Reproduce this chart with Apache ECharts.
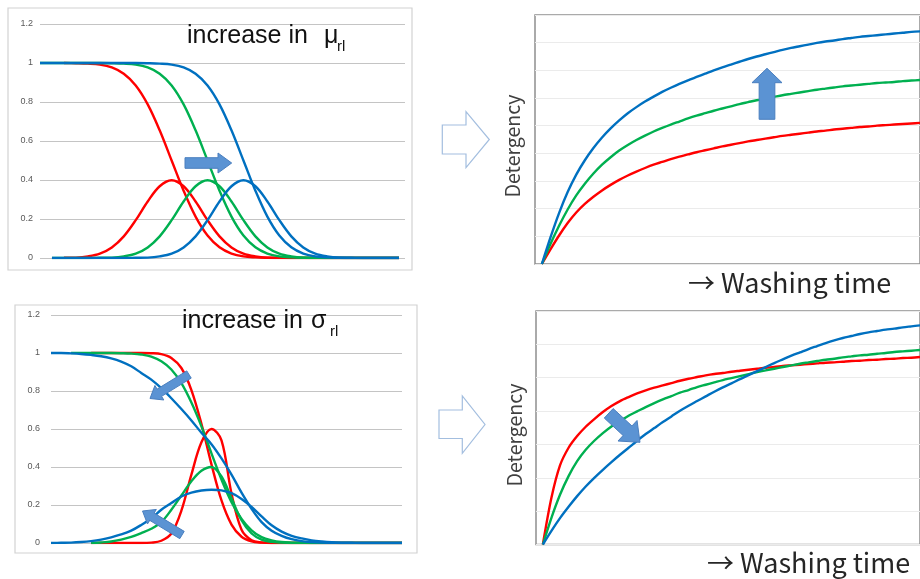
<!DOCTYPE html>
<html>
<head>
<meta charset="utf-8">
<script src="https://cdn.jsdelivr.net/npm/echarts@6/dist/echarts.min.js"></script>
<style>
  html, body { margin: 0; padding: 0; background: #ffffff; }
  #chart { width: 920px; height: 579px; }
</style>
</head>
<body>
<div id="chart"></div>
<script>
// ---------- Shift of the mean (upper-left panel) ----------
const muX = [0,0.4,0.8,1.2,1.6,2,2.4,2.8,3.2,3.6,4,4.4,4.8,5.2,5.6,6,6.4,6.8,7.2,7.6,8,8.4,8.8,9.2,9.6,10,10.4,10.8,11.2,11.6,12];
const muRedRemain   = [null,null,1,0.999,0.997,0.992,0.977,0.945,0.885,0.788,0.655,0.5,0.345,0.212,0.115,0.055,0.023,0.008,0.003,0.001,0,0,0,0,0,0,0,0,0,0,0];
const muRedRate     = [null,null,0.001,0.002,0.008,0.022,0.054,0.111,0.194,0.290,0.368,0.399,0.368,0.290,0.194,0.111,0.054,0.022,0.008,0.002,0.001,0,0,0,0,0,0,0,0,0,0];
const muGreenRemain = [1,1,1,1,1,1,0.999,0.997,0.992,0.977,0.945,0.885,0.788,0.655,0.5,0.345,0.212,0.115,0.055,0.023,0.008,0.003,0.001,0,0,0,0,0,0,0,0];
const muGreenRate   = [null,0,0,0,0,0.001,0.002,0.008,0.022,0.054,0.111,0.194,0.290,0.368,0.399,0.368,0.290,0.194,0.111,0.054,0.022,0.008,0.002,0.001,0,0,0,0,0,0,0];
const muBlueRemain  = [1,1,1,1,1,1,1,1,1,0.999,0.997,0.992,0.977,0.945,0.885,0.788,0.655,0.5,0.345,0.212,0.115,0.055,0.023,0.008,0.003,0.001,0,0,0,0,0];
const muBlueRate    = [null,0,0,0,0,0,0,0,0.001,0.002,0.008,0.022,0.054,0.111,0.194,0.290,0.368,0.399,0.368,0.290,0.194,0.111,0.054,0.022,0.008,0.002,0.001,0,0,0,0];

// ---------- Spread of the distribution (lower-left panel) ----------
const sgX = [0,0.4,0.8,1.2,1.6,2,2.4,2.8,3.2,3.6,4,4.4,4.8,5.2,5.6,6,6.4,6.8,7.2,7.6,8,8.4,8.8,9.2,9.6,10,10.4,10.8,11.2,11.6,12,12.4,12.8,13.2,13.6,14];
const sgRedRemain   = [null,null,null,null,1,1,1,1,1,1,0.999,0.994,0.974,0.921,0.805,0.627,0.414,0.224,0.097,0.033,0.009,0.002,0,0,0,0,0,0,0,0,0,0,0,0,0,0];
const sgRedRate     = [null,null,null,null,0,0,0,0,0,0,0.002,0.012,0.05,0.17,0.36,0.53,0.6,0.54,0.26,0.07,0.015,0.003,0,0,0,0,0,0,0,0,0,0,0,0,0,0];
const sgGreenRemain = [null,null,1,1,1,1,1,0.999,0.997,0.992,0.981,0.956,0.913,0.841,0.739,0.614,0.472,0.334,0.215,0.127,0.067,0.031,0.014,0.005,0.002,0.001,0,0,0,0,0,0,0,0,0,0];
const sgGreenRate   = [null,null,null,null,0,0.003,0.008,0.018,0.032,0.052,0.075,0.11,0.175,0.25,0.325,0.38,0.4,0.35,0.235,0.12,0.05,0.018,0.006,0.002,0,0,0,0,0,0,0,0,0,0,0,0];
const sgBlueRemain  = [1,1,0.998,0.995,0.99,0.983,0.972,0.955,0.93,0.895,0.86,0.815,0.762,0.705,0.645,0.58,0.52,0.445,0.36,0.265,0.18,0.11,0.065,0.038,0.02,0.01,0.005,0.002,0.001,0,0,0,0,0,0,0];
const sgBlueRate    = [0,0.001,0.002,0.005,0.01,0.018,0.03,0.045,0.065,0.095,0.13,0.175,0.21,0.245,0.265,0.276,0.28,0.277,0.262,0.232,0.19,0.14,0.093,0.06,0.038,0.024,0.014,0.008,0.004,0.002,0.001,0,0,0,0,0];

// ---------- Detergency versus washing time ----------
const washTime = [0,0.25,0.5,0.75,1,1.25,1.5,1.75,2,2.25,2.5,2.75,3,3.25,3.5,3.75,4,4.25,4.5,4.75,5,5.25,5.5,5.75,6,6.25,6.5,6.75,7,7.25,7.5,7.75,8,8.25,8.5,8.75,9,9.25,9.5,9.75,10,10.25,10.5,10.75,11];
const detMuRed   = [0,0.53,1.03,1.48,1.86,2.17,2.43,2.66,2.86,3.04,3.2,3.34,3.47,3.59,3.69,3.79,3.88,3.96,4.04,4.11,4.18,4.25,4.31,4.37,4.43,4.48,4.53,4.58,4.63,4.67,4.71,4.75,4.79,4.82,4.86,4.89,4.92,4.95,4.97,5.0,5.02,5.04,5.06,5.08,5.1];
const detMuGreen = [0,0.72,1.38,1.97,2.48,2.9,3.27,3.59,3.86,4.1,4.3,4.48,4.64,4.79,4.92,5.04,5.15,5.26,5.36,5.45,5.54,5.62,5.7,5.78,5.85,5.92,5.98,6.04,6.1,6.15,6.2,6.25,6.3,6.34,6.38,6.42,6.45,6.48,6.51,6.54,6.56,6.58,6.61,6.63,6.65];
const detMuBlue  = [0,0.96,1.84,2.6,3.23,3.75,4.19,4.57,4.9,5.19,5.45,5.67,5.87,6.05,6.22,6.37,6.51,6.64,6.76,6.88,7.0,7.11,7.21,7.31,7.41,7.5,7.58,7.66,7.74,7.81,7.87,7.93,7.99,8.04,8.08,8.13,8.17,8.21,8.24,8.27,8.3,8.33,8.36,8.39,8.41];
const detSgRed   = [0,1.4,2.37,2.9,3.25,3.53,3.76,3.97,4.15,4.3,4.42,4.53,4.62,4.7,4.77,4.84,4.91,4.97,5.02,5.07,5.11,5.14,5.18,5.21,5.24,5.27,5.3,5.32,5.35,5.37,5.39,5.41,5.43,5.45,5.46,5.48,5.5,5.51,5.53,5.54,5.56,5.57,5.59,5.6,5.62];
const detSgGreen = [0,0.8,1.49,2.05,2.5,2.84,3.11,3.34,3.54,3.7,3.86,3.99,4.12,4.24,4.35,4.45,4.55,4.63,4.72,4.79,4.86,4.93,4.99,5.05,5.11,5.17,5.22,5.27,5.32,5.37,5.42,5.46,5.5,5.54,5.57,5.61,5.64,5.67,5.69,5.72,5.74,5.77,5.79,5.81,5.83];
const detSgBlue  = [0,0.41,0.79,1.13,1.45,1.74,2.0,2.24,2.47,2.69,2.9,3.11,3.31,3.49,3.67,3.84,4.01,4.16,4.3,4.44,4.58,4.71,4.83,4.96,5.08,5.2,5.32,5.44,5.55,5.66,5.76,5.86,5.95,6.04,6.12,6.19,6.25,6.31,6.36,6.4,6.44,6.47,6.51,6.54,6.57];

const RED = '#ff0000', GREEN = '#00b050', BLUE = '#0070c0';

function pairs(xs, ys) {
  const out = [];
  xs.forEach((x, i) => { if (ys[i] !== null && ys[i] !== undefined) out.push([x, ys[i]]); });
  return out;
}
function curve(name, xs, ys, color, axis, width, smooth) {
  return {
    name, type: 'line', xAxisIndex: axis, yAxisIndex: axis,
    data: pairs(xs, ys), showSymbol: false, smooth, silent: true,
    lineStyle: { color, width }, itemStyle: { color }
  };
}
// block arrow outline from tail to tip
function blockArrow(x0, y0, x1, y1, bodyW, headW, headL) {
  const dx = x1 - x0, dy = y1 - y0, L = Math.hypot(dx, dy);
  const ux = dx / L, uy = dy / L, nx = -uy, ny = ux;
  const bx = x1 - ux * headL, by = y1 - uy * headL;
  const hb = bodyW / 2, hh = headW / 2;
  return [[x0 + nx * hb, y0 + ny * hb], [bx + nx * hb, by + ny * hb], [bx + nx * hh, by + ny * hh],
          [x1, y1], [bx - nx * hh, by - ny * hh], [bx - nx * hb, by - ny * hb], [x0 - nx * hb, y0 - ny * hb]];
}
function solidArrow(pts) {
  return { type: 'polygon', z: 100, shape: { points: pts },
           style: { fill: '#5b93d3', stroke: '#4a7fbf', lineWidth: 1 } };
}
function hollowArrow(pts) {
  return { type: 'polygon', z: 100, shape: { points: pts },
           style: { fill: '#ffffff', stroke: '#a3bedf', lineWidth: 1.2 } };
}
function label(text, x, y, size) {
  return { type: 'text', z: 100, x, y,
    style: { text, fontSize: size, fontFamily: 'Liberation Sans, Arial, sans-serif', fill: '#111111',
             align: 'left', verticalAlign: 'middle' } };
}

const leftY = (grid, margin) => ({
  type: 'value', gridIndex: grid, min: 0, max: 1.2, interval: 0.2,
  axisLine: { show: false }, axisTick: { show: false },
  axisLabel: { fontSize: 9, color: '#595959', margin, fontFamily: 'Liberation Sans, Arial, sans-serif' },
  splitLine: { lineStyle: { color: '#c4c4c4', width: 1.2 } }
});
const rightY = (grid, max) => ({
  type: 'value', gridIndex: grid, min: 0, max, interval: 1,
  axisLine: { show: false }, axisTick: { show: false }, axisLabel: { show: false },
  splitLine: { lineStyle: { color: '#ebebeb', width: 1.2 } }
});
const hiddenX = (grid, min, max) => ({
  type: 'value', gridIndex: grid, min, max, axisLine: { show: false }, axisTick: { show: false },
  axisLabel: { show: false }, splitLine: { show: false }
});

const LW = 2.4;
const option = {
  animation: false,
  backgroundColor: '#ffffff',
  grid: [
    { left: 40, top: 24, width: 365, height: 234 },
    { left: 51, top: 315, width: 351, height: 228 },
    { left: 535, top: 15, width: 423, height: 249, show: true, borderColor: '#8f8f8f', borderWidth: 1.5 },
    { left: 536, top: 311, width: 422, height: 233.5, show: true, borderColor: '#8f8f8f', borderWidth: 1.5 }
  ],
  xAxis: [hiddenX(0, 0, 12.2), hiddenX(1, 0, 14), hiddenX(2, -0.2, 11), hiddenX(3, -0.2, 11)],
  yAxis: [leftY(0, 7), leftY(1, 11), rightY(2, 9), rightY(3, 7)],
  series: [
    curve('red remaining', muX, muRedRemain, RED, 0, LW, 0.35),
    curve('red rate', muX, muRedRate, RED, 0, LW, 0.35),
    curve('green remaining', muX, muGreenRemain, GREEN, 0, LW, 0.35),
    curve('green rate', muX, muGreenRate, GREEN, 0, LW, 0.35),
    curve('blue remaining', muX, muBlueRemain, BLUE, 0, LW, 0.35),
    curve('blue rate', muX, muBlueRate, BLUE, 0, LW, 0.35),

    curve('red remaining', sgX, sgRedRemain, RED, 1, LW, 0.35),
    curve('red rate', sgX, sgRedRate, RED, 1, LW, 0.35),
    curve('green remaining', sgX, sgGreenRemain, GREEN, 1, LW, 0.35),
    curve('green rate', sgX, sgGreenRate, GREEN, 1, LW, 0.35),
    curve('blue remaining', sgX, sgBlueRemain, BLUE, 1, LW, 0.35),
    curve('blue rate', sgX, sgBlueRate, BLUE, 1, LW, 0.35),

    curve('red', washTime, detMuRed, RED, 2, LW, 0.3),
    curve('green', washTime, detMuGreen, GREEN, 2, LW, 0.3),
    curve('blue', washTime, detMuBlue, BLUE, 2, LW, 0.3),

    curve('red', washTime, detSgRed, RED, 3, LW, 0.3),
    curve('green', washTime, detSgGreen, GREEN, 3, LW, 0.3),
    curve('blue', washTime, detSgBlue, BLUE, 3, LW, 0.3)
  ],
  graphic: [
    // frames round the two distribution plots
    { type: 'rect', z: 1, shape: { x: 8, y: 8, width: 404, height: 262 },
      style: { fill: 'none', stroke: '#d2d2d2', lineWidth: 1.2 } },
    { type: 'rect', z: 1, shape: { x: 15, y: 305, width: 402, height: 248 },
      style: { fill: 'none', stroke: '#d2d2d2', lineWidth: 1.2 } },

    // panel titles
    label('increase in', 187, 36.5, 25),
    label('μ', 324, 36.5, 25),
    label('rl', 337, 47, 15),
    label('increase in', 182, 321.5, 25),
    label('σ', 311, 321.5, 25),
    label('rl', 330, 332, 15),

    // arrows showing the direction of change
    solidArrow(blockArrow(185, 163, 231.7, 163, 10.6, 20, 13.7)),
    solidArrow(blockArrow(189, 374.5, 150, 398.5, 8.5, 17, 11)),
    solidArrow(blockArrow(182, 535, 142.5, 511, 8.5, 17, 11)),
    solidArrow(blockArrow(767, 119.3, 767, 68.3, 15.7, 30, 14.4)),
    solidArrow(blockArrow(608.7, 413.3, 640, 442.3, 13, 28, 17)),

    // hollow arrows linking left and right plots
    hollowArrow([[442.3,125],[466,125],[466,111.7],[489.3,139.5],[466,167.7],[466,154],[442.3,154]]),
    hollowArrow([[439,410],[462.3,410],[462.3,396],[485,424.5],[462.3,453.3],[462.3,438.5],[439,438.5]]),

    // axis captions of the detergency plots
    { type: 'text', z: 100, x: 513, y: 146, rotation: Math.PI / 2,
      style: { text: 'Detergency', fontSize: 19.5, fontFamily: 'Noto Sans CJK JP, sans-serif', fill: '#404040',
               align: 'center', verticalAlign: 'middle' } },
    { type: 'text', z: 100, x: 515, y: 435, rotation: Math.PI / 2,
      style: { text: 'Detergency', fontSize: 19.5, fontFamily: 'Noto Sans CJK JP, sans-serif', fill: '#404040',
               align: 'center', verticalAlign: 'middle' } },
    { type: 'text', z: 100, x: 688, y: 283,
      style: { text: '→ Washing time', fontSize: 27, fontFamily: 'Noto Sans CJK JP, sans-serif', fill: '#262626',
               align: 'left', verticalAlign: 'middle' } },
    { type: 'text', z: 100, x: 707, y: 563,
      style: { text: '→ Washing time', fontSize: 27, fontFamily: 'Noto Sans CJK JP, sans-serif', fill: '#262626',
               align: 'left', verticalAlign: 'middle' } }
  ]
};

const chart = echarts.init(document.getElementById('chart'), null, { renderer: 'canvas' });
chart.setOption(option);
</script>
</body>
</html>
